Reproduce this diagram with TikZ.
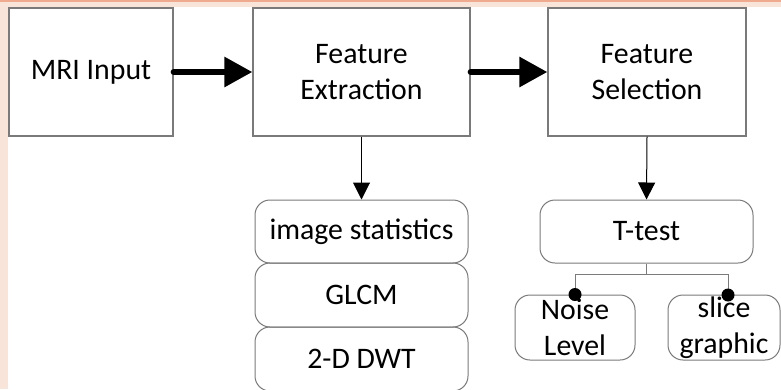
\documentclass[tikz,border=0pt]{standalone}
\usepackage{fontspec}
\setmainfont{Carlito}
\usetikzlibrary{arrows.meta}
\definecolor{pinkbg}{HTML}{F9E4DA}
\definecolor{salmon}{HTML}{EFAA90}
\definecolor{boxline}{HTML}{7A7A7A}
\begin{document}
\begin{tikzpicture}[x=1pt,y=-1pt,
  every node/.style={font=\fontsize{29.8}{36.5}\selectfont, align=center, inner sep=0pt},
  blockbox/.style={draw=boxline, line width=1.3pt, rectangle},
  roundbox/.style={draw=boxline, line width=1pt, rectangle, rounded corners=15pt},
  bigarrow/.style={line width=6pt, line cap=round, -{Triangle[length=28pt,width=29pt]}},
  thinarrow/.style={line width=1pt, -{Triangle[length=17pt,width=17pt]}},
  branch/.style={draw=boxline, line width=1pt}
]
\useasboundingbox (0,0) rectangle (781,389);
% background
\fill[pinkbg] (0,0) rectangle (781,389);
\fill[white] (8,7) rectangle (781,389);
\fill[salmon] (0,0) rectangle (781,2);
% main boxes
\node[blockbox, minimum width=164pt, minimum height=128pt] (mri) at (91,72) {MRI Input};
\node[blockbox, minimum width=217pt, minimum height=128pt] (fe) at (361.5,72) {Feature\\Extraction};
\node[blockbox, minimum width=198pt, minimum height=128pt] (fs) at (647,72) {Feature\\Selection};
% extraction stack
\node[roundbox, minimum width=213pt, minimum height=63pt] (img) at (361.5,231.5) {image statistics};
\node[roundbox, minimum width=213pt, minimum height=64pt] (glcm) at (361.5,295) {GLCM};
\node[roundbox, minimum width=213pt, minimum height=64pt] (dwt) at (361.5,359) {2-D DWT};
% selection
\node[roundbox, minimum width=213pt, minimum height=63pt] (tt) at (646.5,231.5) {T-test};
\node[roundbox, minimum width=120pt, minimum height=65pt] (noise) at (575,327.5) {Noise\\Level};
\node[roundbox, minimum width=112pt, minimum height=65pt] (slice) at (724,327.5) {slice\\graphic};
\coordinate (sd) at (728,295);
% connectors
\draw[bigarrow] (mri.east) -- (fe.west);
\draw[bigarrow] (fe.east) -- (fs.west);
\draw[thinarrow] (fe.south) -- (img.north);
\draw[thinarrow] (fs.south) -- (tt.north);
\draw[branch] (tt.south) -- ++(0,11) coordinate (j);
\draw[branch] (j) -| (noise.north);
\draw[branch] (j) -| (sd);
\fill (noise.north) circle (6.5pt);
\fill (sd) circle (6.5pt);
\end{tikzpicture}
\end{document}
